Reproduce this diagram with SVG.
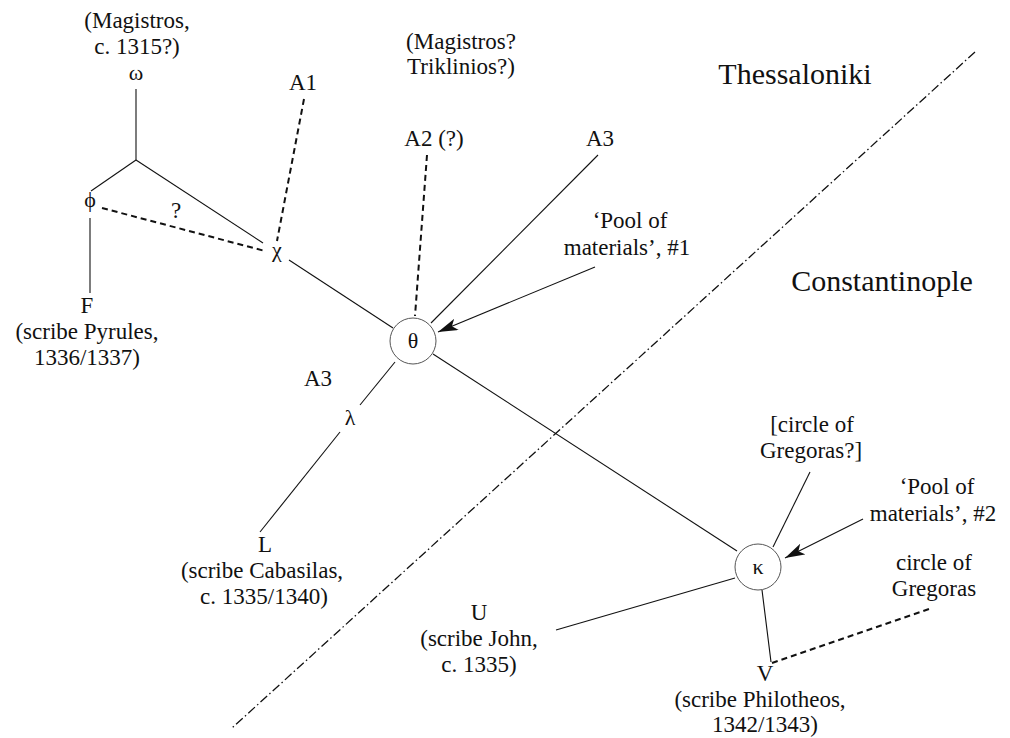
<svg xmlns="http://www.w3.org/2000/svg" width="1010" height="738" viewBox="0 0 1010 738" font-family="'Liberation Serif', 'DejaVu Serif', serif">
<defs>
<style>
text{font-family:'Liberation Serif','DejaVu Serif',serif;font-size:23px;fill:#111;text-anchor:middle}
.big{font-size:30px}
.gk{font-size:22px}
.ln{stroke:#111;stroke-width:1.1;fill:none}
.ds{stroke:#111;stroke-width:2;stroke-dasharray:6 4;fill:none}
.dd{stroke:#111;stroke-width:1.3;stroke-dasharray:9 3 1.5 3;fill:none}
.ar{stroke:#111;stroke-width:1.1;fill:none;marker-end:url(#ah)}
.nd{fill:#fff;stroke:#555;stroke-width:1}
</style>
<marker id="ah" viewBox="0 0 20 12" refX="20" refY="6" markerWidth="20" markerHeight="12" markerUnits="userSpaceOnUse" orient="auto">
<path d="M0,0 L20,6 L0,12 L5,6 z" fill="#111"/>
</marker>
</defs>
<rect width="1010" height="738" fill="#fff"/>
<g id="connectors">
<line class="dd" x1="975" y1="52" x2="232" y2="728"/>
<line class="ln" x1="136" y1="89" x2="136" y2="160"/>
<line class="ln" x1="136" y1="160" x2="91" y2="191"/>
<line class="ln" x1="136" y1="160" x2="263" y2="243"/>
<line class="ds" x1="102" y1="208" x2="265" y2="251"/>
<line class="ds" x1="304" y1="99" x2="277" y2="241"/>
<line class="ln" x1="90" y1="218" x2="90" y2="293"/>
<line class="ln" x1="289" y1="260" x2="393" y2="328"/>
<line class="ds" x1="427" y1="155" x2="415" y2="316"/>
<line class="ln" x1="598" y1="155" x2="431" y2="323"/>
<line class="ln" x1="433" y1="354" x2="737" y2="551"/>
<line class="ln" x1="395" y1="362" x2="360" y2="405"/>
<line class="ln" x1="340" y1="432" x2="260" y2="532"/>
<line class="ln" x1="810" y1="472" x2="773" y2="547"/>
<line class="ln" x1="556" y1="630" x2="735" y2="578"/>
<line class="ln" x1="762" y1="590" x2="771" y2="662"/>
<line class="ds" x1="772" y1="663" x2="932" y2="608"/>
<line class="ar" x1="595" y1="267" x2="438" y2="332"/>
<line class="ar" x1="863" y1="519" x2="785" y2="558"/>
</g>
<g id="omega"><text x="137" y="28">(Magistros,</text><text x="137" y="54">c. 1315?)</text><text class="gk" x="136" y="80">ω</text></g>
<g id="A1"><text x="303" y="90">A1</text></g>
<g id="A2"><text x="461" y="49">(Magistros?</text><text x="461" y="74">Triklinios?)</text><text x="434" y="146">A2 (?)</text></g>
<g id="A3top"><text x="600" y="146">A3</text></g>
<g id="thessaloniki"><text class="big" x="795" y="84">Thessaloniki</text></g>
<g id="constantinople"><text class="big" x="882" y="291">Constantinople</text></g>
<g id="pool1"><text x="630" y="228">‘Pool of</text><text x="627" y="255">materials’, #1</text></g>
<g id="phi"><text class="gk" x="90" y="207">ϕ</text></g>
<g id="q"><text x="176" y="218">?</text></g>
<g id="chi"><text class="gk" x="277" y="257">χ</text></g>
<g id="F"><text x="87" y="313">F</text><text x="87" y="339">(scribe Pyrules,</text><text x="87" y="365">1336/1337)</text></g>
<g id="theta"><circle class="nd" cx="413" cy="341" r="23"/><text class="gk" x="413" y="348">θ</text></g>
<g id="A3low"><text x="318" y="386">A3</text></g>
<g id="lambda"><text class="gk" x="350" y="425">λ</text></g>
<g id="L"><text x="265" y="552">L</text><text x="262" y="578">(scribe Cabasilas,</text><text x="264" y="604">c. 1335/1340)</text></g>
<g id="U"><text x="479" y="620">U</text><text x="479" y="646">(scribe John,</text><text x="479" y="672">c. 1335)</text></g>
<g id="kappa"><circle class="nd" cx="758" cy="567" r="23"/><text class="gk" x="758" y="574">κ</text></g>
<g id="circleQ"><text x="812" y="432">[circle of</text><text x="811" y="458">Gregoras?]</text></g>
<g id="pool2"><text x="937" y="494">‘Pool of</text><text x="933" y="521">materials’, #2</text></g>
<g id="circleG"><text x="934" y="570">circle of</text><text x="934" y="596">Gregoras</text></g>
<g id="V"><text x="765" y="681">V</text><text x="760" y="707">(scribe Philotheos,</text><text x="765" y="732">1342/1343)</text></g>
</svg>
